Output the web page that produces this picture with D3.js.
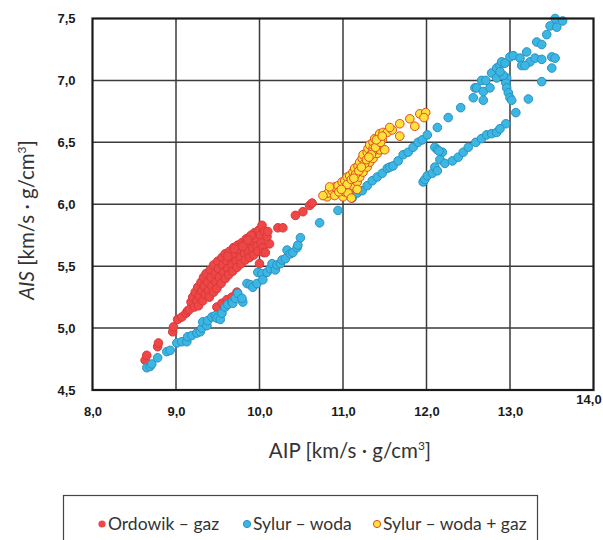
<!DOCTYPE html>
<html>
<head>
<meta charset="utf-8">
<script src="https://cdn.jsdelivr.net/npm/d3@7"></script>
<style>
  html, body { margin: 0; padding: 0; background: #fff; }
  svg { display: block; }
</style>
</head>
<body>
<svg id="chart" width="603" height="540"></svg>
<script>
// Acoustic impedance: AIP (x) vs AIS (y), [km/s · g/cm³]
const xTicks = [8, 9, 10, 11, 12, 13, 14];
const yTicks = [4.5, 5.0, 5.5, 6.0, 6.5, 7.0, 7.5];

const seriesNames = ["Ordowik – gaz", "Sylur – woda", "Sylur – woda + gaz"];

// Ordowik – gaz
const ordowikGaz = [
  [8.63,4.74],[8.65,4.78],[8.78,4.85],[8.79,4.88],[8.96,4.97],[8.97,5.01],[9.02,5.07],[9.07,5.09],[9.12,5.12],[9.14,5.14],
  [9.16,5.15],[9.18,5.21],[9.20,5.25],[9.22,5.17],[9.23,5.29],[9.25,5.22],[9.26,5.33],[9.27,5.18],[9.28,5.26],[9.30,5.37],
  [9.31,5.30],[9.32,5.22],[9.33,5.41],[9.34,5.34],[9.35,5.27],[9.36,5.44],[9.38,5.37],[9.39,5.30],[9.40,5.25],
  [9.41,5.47],[9.42,5.41],[9.43,5.34],[9.45,5.29],[9.45,5.51],[9.47,5.44],[9.48,5.37],[9.49,5.32],[9.50,5.54],[9.51,5.48],
  [9.52,5.41],[9.54,5.36],[9.55,5.57],[9.56,5.51],[9.57,5.45],[9.59,5.40],[9.59,5.60],[9.61,5.54],[9.62,5.48],[9.63,5.43],
  [9.64,5.62],[9.66,5.57],[9.67,5.51],[9.68,5.46],[9.69,5.65],[9.71,5.60],[9.72,5.54],[9.73,5.49],[9.74,5.67],[9.76,5.62],
  [9.77,5.57],[9.78,5.52],[9.79,5.69],[9.81,5.65],[9.82,5.60],[9.83,5.55],[9.84,5.72],[9.86,5.67],[9.87,5.62],[9.88,5.57],
  [9.89,5.74],[9.91,5.70],[9.92,5.64],[9.93,5.59],[9.94,5.77],[9.96,5.72],[9.97,5.66],[9.98,5.62],[9.99,5.79],[10.01,5.75],
  [10.02,5.69],[10.03,5.83],[10.04,5.65],[10.06,5.78],[10.05,5.61],[9.70,5.64],[9.80,5.66],[9.90,5.75],[9.62,5.58],[9.86,5.71],
  [9.49,5.17],[9.55,5.20],[9.61,5.23],[9.67,5.25],[9.73,5.29],
  [10.00,5.52],[10.07,5.61],[10.12,5.68],[10.09,5.74],[10.10,5.78],
  [10.22,5.81],[10.28,5.81],[10.43,5.91],[10.52,5.94],[10.60,5.99],[10.63,6.01]
];

// Sylur – woda
const sylurWoda = [
  [8.65,4.68],[8.69,4.69],[8.71,4.71],[8.78,4.76],[8.89,4.81],[8.93,4.82],[9.01,4.88],[9.07,4.89],[9.13,4.89],[9.14,4.93],
  [9.19,4.94],[9.25,4.96],[9.29,4.97],[9.31,5.00],[9.32,5.05],[9.37,5.02],[9.38,5.06],[9.43,5.09],[9.47,5.10],[9.49,5.08],
  [9.53,5.07],[9.55,5.12],[9.59,5.17],[9.62,5.19],[9.67,5.21],[9.68,5.20],[9.71,5.24],[9.74,5.28],[9.80,5.21],[9.79,5.24],
  [9.85,5.36],[9.89,5.35],[9.92,5.33],[9.97,5.36],[9.98,5.45],[10.03,5.44],[10.04,5.39],[10.09,5.45],[10.13,5.48],[10.15,5.52],
  [10.19,5.47],[10.21,5.51],[10.25,5.52],[10.27,5.55],[10.31,5.56],[10.33,5.63],[10.37,5.60],[10.40,5.61],[10.45,5.65],[10.46,5.67],
  [10.49,5.73],[10.72,5.85],[10.94,5.95],[11.11,6.05],[11.17,6.09],[11.23,6.11],[11.29,6.15],[11.35,6.19],[11.41,6.22],[11.47,6.25],
  [11.53,6.29],[11.56,6.30],[11.60,6.31],[11.66,6.35],[11.72,6.40],[11.78,6.42],[11.84,6.46],[11.90,6.50],[11.95,6.52],[12.01,6.56],
  [12.13,6.62],[12.26,6.70],[12.41,6.78],[12.56,6.86],[12.58,6.94],[12.60,6.94],[12.66,7.00],[12.71,7.00],[12.68,6.91],[12.68,6.84],
  [12.76,6.94],[12.78,7.06],[12.84,7.10],[12.84,7.02],[12.88,7.12],[12.90,7.15],[12.94,7.14],[12.96,7.02],[12.95,6.98],[12.96,6.94],
  [12.98,6.90],[13.00,6.86],[13.02,6.84],[13.00,7.19],[13.04,7.20],[13.12,7.18],[13.20,7.23],[13.24,7.15],[13.30,7.18],[13.38,7.17],
  [13.50,7.19],[13.54,7.18],[13.50,7.10],[13.38,6.99],[13.22,6.85],[13.07,6.74],[12.95,6.65],[13.32,7.31],[13.38,7.29],[13.44,7.37],
  [13.48,7.44],[13.54,7.50],[13.56,7.43],[13.63,7.48],[13.14,7.12],[13.18,7.12],[12.92,7.04],[12.88,7.07],
  [11.96,6.18],[11.98,6.20],[12.01,6.23],[12.07,6.25],[12.10,6.30],[12.13,6.27],[12.10,6.46],[12.13,6.44],[12.19,6.42],[12.15,6.43],
  [12.16,6.36],[12.22,6.33],[12.31,6.35],[12.38,6.38],[12.44,6.42],[12.50,6.46],[12.59,6.50],[12.66,6.53],[12.72,6.56],[12.78,6.57],
  [12.84,6.58],[12.88,6.61]
];

// Sylur – woda + gaz
const sylurWodaGaz = [
  [10.81,6.06],[10.82,6.09],[10.87,6.11],[10.90,6.14],[10.94,6.15],[10.99,6.18],[11.02,6.19],[11.05,6.22],[11.08,6.23],[11.12,6.26],
  [11.14,6.29],[11.18,6.31],[11.20,6.34],[11.23,6.37],[11.24,6.40],[11.29,6.42],[11.30,6.45],[11.32,6.48],[11.36,6.50],[11.38,6.53],
  [11.42,6.54],[11.44,6.57],[11.48,6.58],[11.53,6.58],[11.59,6.60],[11.56,6.62],[11.68,6.65],[11.68,6.55],[11.80,6.69],[11.86,6.63],
  [11.92,6.73],[11.99,6.74],[11.97,6.70],[10.90,6.07],[11.00,6.06],[11.02,6.10],[11.08,6.13],[11.12,6.15],[11.17,6.18],[11.20,6.22],
  [11.24,6.26],[11.29,6.30],[11.32,6.34],[11.36,6.37],[11.41,6.41],[11.44,6.44],[11.50,6.44],[11.36,6.45],[11.35,6.42],[11.42,6.49],
  [11.47,6.52],[10.76,6.07],[10.84,6.14],[10.95,6.10],[11.05,6.16],[11.10,6.20],[11.15,6.24],[11.19,6.27],[11.26,6.33],[11.28,6.36],
  [11.34,6.40],[11.39,6.46],[11.45,6.50],[11.06,6.09],[10.98,6.12],[11.22,6.30],[11.31,6.38],[11.40,6.52],[11.47,6.55],[11.13,6.21],
  [11.17,6.12],[11.10,6.05]
];

const seriesData = [ordowikGaz, sylurWoda, sylurWodaGaz];
const fills   = ["#ef4647", "#3cb6e3", "#ffe13a"];
const strokes = ["#d93a3a", "#2a92c2", "#e04a22"];

const svg = d3.select("#chart");
const x = d3.scaleLinear().domain([8, 14]).range([92.5, 593.5]);
const y = d3.scaleLinear().domain([4.5, 7.5]).range([390, 18.5]);
const fmt = d => d3.format(".1f")(d).replace(".", ",");

// grid
const grid = svg.append("g");
grid.selectAll("line.vx").data(xTicks.slice(1, -1)).join("line")
  .attr("x1", d => x(d)).attr("x2", d => x(d))
  .attr("y1", y(7.5)).attr("y2", y(4.5))
  .attr("stroke", "#3a3a3a").attr("stroke-width", 1.5);
grid.selectAll("line.hy").data(yTicks.slice(1, -1)).join("line")
  .attr("x1", x(8)).attr("x2", x(14))
  .attr("y1", d => y(d)).attr("y2", d => y(d))
  .attr("stroke", "#3a3a3a").attr("stroke-width", 1.5);

// axes (labels only)
const xAxis = svg.append("g").attr("transform", `translate(0,${y(4.5)})`)
  .call(d3.axisBottom(x).tickValues(xTicks).tickFormat(fmt).tickSize(0).tickPadding(17));
const yAxis = svg.append("g").attr("transform", `translate(${x(8)},0)`)
  .call(d3.axisLeft(y).tickValues(yTicks).tickFormat(fmt).tickSize(0).tickPadding(17));
[xAxis, yAxis].forEach(a => {
  a.select(".domain").remove();
  a.selectAll("text").attr("font-family", "'Liberation Sans', Arial, sans-serif")
    .attr("font-size", 13).attr("font-weight", "bold").attr("fill", "#1a1a1a");
});
xAxis.selectAll(".tick").filter(d => d === 14).select("text").attr("dx", -5).attr("dy", "-0.2em");

// points
seriesData.forEach((arr, i) => {
  svg.append("g").selectAll("circle").data(arr).join("circle")
    .attr("cx", d => x(d[0])).attr("cy", d => y(d[1])).attr("r", 4.3)
    .attr("fill", fills[i]).attr("stroke", strokes[i]).attr("stroke-width", 1);
});

// frame
svg.append("rect")
  .attr("x", x(8)).attr("y", y(7.5))
  .attr("width", x(14) - x(8)).attr("height", y(4.5) - y(7.5))
  .attr("fill", "none").attr("stroke", "#1a1a1a").attr("stroke-width", 2.2);

// axis titles
const titleFont = "Lato, 'Open Sans', sans-serif";
const xt = svg.append("text").attr("x", 350).attr("y", 458).attr("text-anchor", "middle")
  .attr("font-family", titleFont).attr("font-size", 20.5).attr("fill", "#333");
xt.append("tspan").text("AIP [km/s · g/cm");
xt.append("tspan").attr("font-size", 12).attr("dy", -8).text("3");
xt.append("tspan").attr("dy", 8).text("]");

const yt = svg.append("text").attr("transform", "translate(34,220) rotate(-90)").attr("text-anchor", "middle")
  .attr("font-family", titleFont).attr("font-size", 20.5).attr("fill", "#333");
yt.append("tspan").attr("font-style", "italic").text("AIS");
yt.append("tspan").text(" [km/s · g/cm");
yt.append("tspan").attr("font-size", 12).attr("dy", -8).text("3");
yt.append("tspan").attr("dy", 8).text("]");

// legend
const legend = svg.append("g");
legend.append("rect").attr("x", 63.5).attr("y", 495.5).attr("width", 474).attr("height", 60)
  .attr("fill", "#fff").attr("stroke", "#444").attr("stroke-width", 1.2);
const legendX = [102, 247, 377];
seriesNames.forEach((name, i) => {
  legend.append("circle").attr("cx", legendX[i]).attr("cy", 524).attr("r", 3.6)
    .attr("fill", fills[i]).attr("stroke", strokes[i]).attr("stroke-width", i === 0 ? 0 : 1);
  legend.append("text").attr("x", legendX[i] + 6).attr("y", 530)
    .attr("font-family", titleFont).attr("font-size", 17.5).attr("fill", "#333").text(name);
});
</script>
</body>
</html>
